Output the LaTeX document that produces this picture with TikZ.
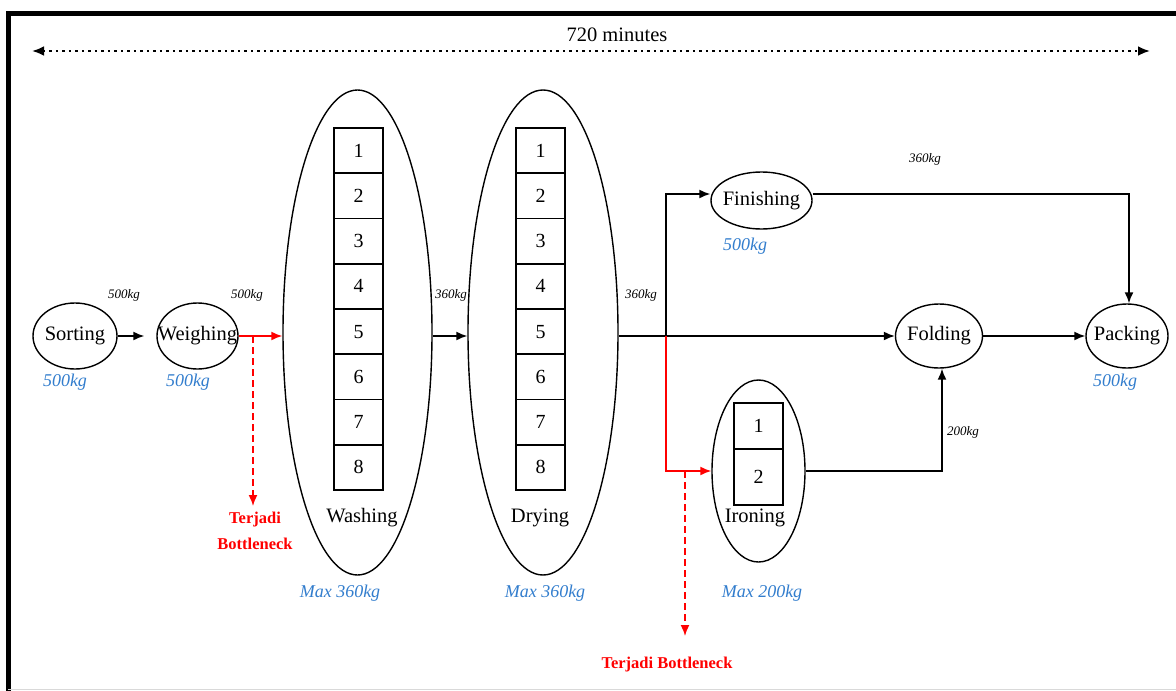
\documentclass[tikz,border=0pt]{standalone}
\usepackage{fontspec}
\setmainfont{Liberation Serif}
\usetikzlibrary{shapes.geometric,arrows.meta}
\definecolor{cblue}{RGB}{50,125,205}
\definecolor{cred}{RGB}{255,0,0}
\begin{document}
\begin{tikzpicture}[x=1pt,y=-1pt,
  proc/.style={ellipse,draw,line width=1.4pt,inner sep=0pt},
  txt/.style={inner sep=0pt,font=\fontsize{20.5}{24}\selectfont},
  cell/.style={rectangle,draw,line width=1.6pt,inner sep=0pt,minimum width=49pt,font=\fontsize{20}{24}\selectfont},
  arr/.style={line width=1.6pt,-{Latex[length=11pt,width=9pt]}},
  kg/.style={inner sep=0pt,font=\fontsize{13}{15}\selectfont\itshape},
  bluecap/.style={inner sep=0pt,font=\fontsize{18}{21}\selectfont\itshape,text=cblue},
  bn/.style={inner sep=0pt,font=\fontsize{16.5}{26}\selectfont\bfseries,text=cred,align=center}]
\useasboundingbox (0,0) rectangle (1176,691);
\clip (0,0) rectangle (1176,691);
% frame
\draw[line width=5pt] (8.5,720) -- (8.5,13.5) -- (1200,13.5);
\draw[line width=1.2pt,black!15] (8,689.5) -- (1176,689.5);
% time axis
\coordinate (la) at (32,51);
\coordinate (ra) at (1150,51);
\draw[line width=2.6pt,dash pattern=on 2.6pt off 3.9pt,{Latex[length=12pt,width=10pt]}-{Latex[length=12pt,width=10pt]}] (la) -- (ra);
\node[txt] (tm) at (617,35) {720 minutes};
% process ellipses
\node[proc,minimum width=84pt,minimum height=66pt] (sorting) at (75,336) {};
\node[txt] (sortingt) at (75,336) {Sorting};
\node[proc,minimum width=81pt,minimum height=66pt] (weighing) at (197.5,336) {};
\node[txt] (weighingt) at (197.5,336) {Weighing};
\node[proc,minimum width=149pt,minimum height=485pt] (washing) at (357.5,332.5) {};
\node[proc,minimum width=150pt,minimum height=485pt] (drying) at (543,332.5) {};
\node[proc,minimum width=101pt,minimum height=57pt] (finishing) at (761.5,200.5) {};
\node[txt] (finishingt) at (761.5,201) {Finishing};
\node[proc,minimum width=87pt,minimum height=64pt] (folding) at (939,336) {};
\node[txt] (foldingt) at (939,336) {Folding};
\node[proc,minimum width=82pt,minimum height=64pt] (packing) at (1127,336) {};
\node[txt] (packingt) at (1127,336) {Packing};
\node[proc,minimum width=93pt,minimum height=182pt] (ironing) at (758.5,471) {};
% cells
\foreach \i in {1,...,8}{
  \node[cell,minimum height=45.25pt] (w\i) at (358.5,{128+45.25*(\i-0.5)}) {\i};
  \node[cell,minimum height=45.25pt] (d\i) at (540.5,{128+45.25*(\i-0.5)}) {\i};
}
\node[cell,minimum height=46pt] (i1) at (758.5,426) {1};
\node[cell,minimum height=56pt] (i2) at (758.5,477) {2};
\node[txt] (washingt) at (362,518) {Washing};
\node[txt] (dryingt) at (540,518) {Drying};
\node[txt] (ironingt) at (755,518) {Ironing};
% connectors
\draw[arr] (sorting.east) -- ([xshift=-12pt]weighing.west);
\draw[arr,cred] (weighing.east) -- (weighing.east -| washing.west);
\coordinate (b1s) at (253,336);
\coordinate (b1e) at (253,506);
\draw[arr,cred,dash pattern=on 7pt off 4pt] (b1s) -- (b1e);
\draw[arr] (washing.east |- sorting.east) -- (drying.west |- sorting.east);
\draw[arr] (drying.east |- folding.west) -- (folding.west);
\coordinate (j) at (666,336);
\coordinate (jf) at (666,194);
\draw[arr] (j) -- (jf) -- ([yshift=6.5pt]finishing.west);
\draw[arr,cred] (j) |- (ironing.west);
\coordinate (b2s) at (685,471);
\coordinate (b2e) at (685,636);
\draw[arr,cred,dash pattern=on 7pt off 4pt] (b2s) -- (b2e);
\coordinate (fp) at (1129,194);
\draw[arr] ([yshift=6.5pt]finishing.east) -- (fp) -- (fp |- packing.north);
\draw[arr] (folding.east) -- (packing.west);
\coordinate (ifo) at (942,471);
\draw[arr] (ironing.east) -- (ifo) -- (ifo |- folding.south);
% labels
\node[kg] (k1) at (124,295) {500kg};
\node[kg] (k2) at (247,295) {500kg};
\node[kg] (k3) at (451,295) {360kg};
\node[kg] (k4) at (641,295) {360kg};
\node[kg] (k5) at (925,159) {360kg};
\node[kg] (k6) at (963,432) {200kg};
\node[bluecap] (c1) at (65,382) {500kg};
\node[bluecap] (c2) at (188,382) {500kg};
\node[bluecap] (c3) at (745,246) {500kg};
\node[bluecap] (c4) at (1115,382) {500kg};
\node[bluecap] (c5) at (340,593) {Max 360kg};
\node[bluecap] (c6) at (545,593) {Max 360kg};
\node[bluecap] (c7) at (762,593) {Max 200kg};
\node[bn] (bn1) at (255,531) {Terjadi\\Bottleneck};
\node[bn] (bn2) at (667,665) {Terjadi Bottleneck};
\end{tikzpicture}
\end{document}
